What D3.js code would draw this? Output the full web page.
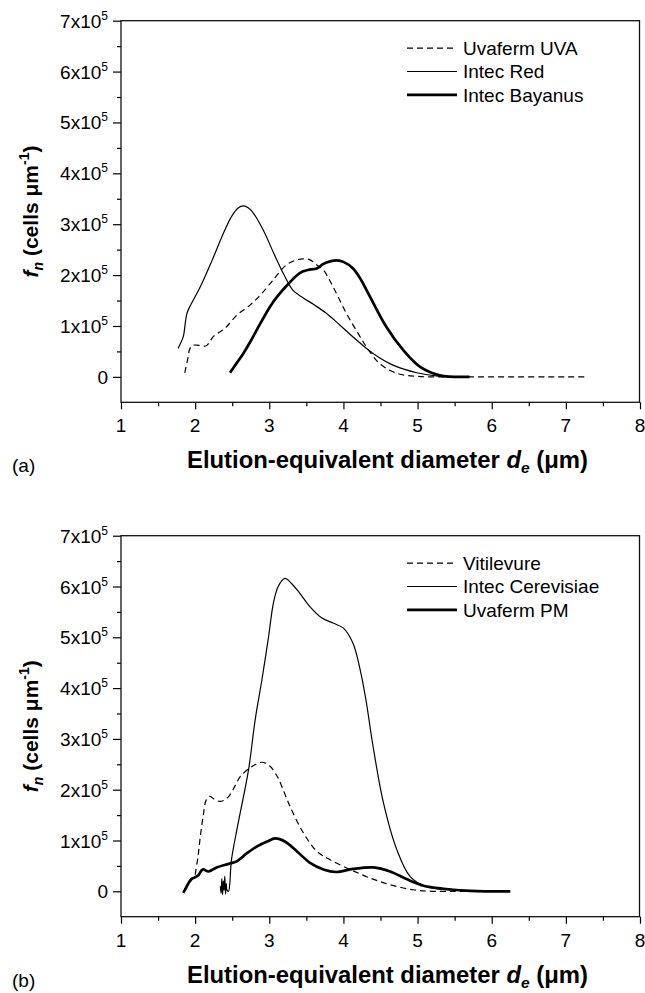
<!DOCTYPE html>
<html>
<head>
<meta charset="utf-8">
<script src="https://cdn.jsdelivr.net/npm/d3@7"></script>
<style>
  body { margin: 0; background: #fff; }
  svg { display: block; font-family: "Liberation Sans", Arial, sans-serif; }
</style>
</head>
<body>
<svg id="chart" width="645" height="993"></svg>
<script>
// fn values in units of 10^5 cells per um

// panel (a)
var uvaX = [1.86, 1.90, 1.93, 1.97, 2.05, 2.15, 2.20, 2.25, 2.33, 2.42, 2.56, 2.74, 2.88, 3.05, 3.23, 3.35, 3.45, 3.55, 3.64, 3.73, 3.86, 4.04, 4.20, 4.31, 4.49, 4.72, 4.99, 5.30, 6.00, 7.00, 7.28];
var uvaY = [0.08, 0.35, 0.56, 0.62, 0.62, 0.61, 0.70, 0.80, 0.88, 0.98, 1.21, 1.41, 1.61, 1.90, 2.20, 2.29, 2.32, 2.30, 2.20, 2.10, 1.77, 1.25, 0.85, 0.59, 0.26, 0.07, 0.01, 0, 0, 0, 0];
var redX = [1.77, 1.80, 1.84, 1.89, 1.95, 2.07, 2.22, 2.36, 2.49, 2.58, 2.65, 2.72, 2.79, 2.92, 3.06, 3.19, 3.32, 3.45, 3.60, 3.77, 3.95, 4.18, 4.40, 4.67, 4.99, 5.30, 5.70];
var redY = [0.56, 0.65, 0.79, 1.25, 1.44, 1.77, 2.26, 2.75, 3.15, 3.32, 3.36, 3.32, 3.21, 2.88, 2.43, 2.03, 1.70, 1.56, 1.42, 1.25, 1.02, 0.72, 0.46, 0.23, 0.08, 0.01, 0];
var bayX = [2.47, 2.56, 2.65, 2.74, 2.83, 3.01, 3.12, 3.24, 3.41, 3.52, 3.64, 3.73, 3.82, 3.91, 4.00, 4.13, 4.24, 4.36, 4.58, 4.81, 5.03, 5.30, 5.70];
var bayY = [0.08, 0.27, 0.46, 0.68, 0.92, 1.38, 1.60, 1.80, 2.04, 2.10, 2.13, 2.22, 2.27, 2.29, 2.26, 2.13, 1.90, 1.57, 0.98, 0.52, 0.20, 0.03, 0];

// panel (b)
var vitX = [2.00, 2.04, 2.07, 2.11, 2.15, 2.20, 2.25, 2.33, 2.40, 2.47, 2.54, 2.61, 2.74, 2.90, 3.01, 3.10, 3.15, 3.28, 3.46, 3.64, 3.82, 4.09, 4.36, 4.63, 4.94, 5.21, 5.60, 6.20];
var vitY = [0.33, 0.70, 1.08, 1.50, 1.80, 1.87, 1.82, 1.77, 1.80, 1.90, 2.08, 2.26, 2.43, 2.54, 2.46, 2.28, 2.13, 1.67, 1.15, 0.79, 0.62, 0.43, 0.26, 0.13, 0.03, 0, 0, 0];
var cerX = [2.34, 2.35, 2.36, 2.37, 2.38, 2.39, 2.40, 2.41, 2.42, 2.43, 2.45, 2.49, 2.58, 2.72, 2.81, 2.90, 2.99, 3.055, 3.12, 3.21, 3.30, 3.41, 3.55, 3.71, 3.86, 4.00, 4.13, 4.22, 4.30, 4.40, 4.54, 4.72, 4.90, 5.12, 5.39, 5.84, 6.25];
var cerY = [0.10, -0.04, 0.25, -0.06, 0.20, 0.02, 0.30, -0.05, 0.15, 0.02, 0.0, 0.62, 1.34, 2.39, 3.38, 4.16, 5.01, 5.67, 6.00, 6.16, 6.06, 5.87, 5.60, 5.38, 5.28, 5.18, 4.88, 4.40, 3.80, 2.85, 1.74, 0.82, 0.29, 0.09, 0.03, 0.01, 0];
var pmX = [1.84, 1.87, 1.91, 1.95, 1.99, 2.04, 2.08, 2.11, 2.18, 2.29, 2.45, 2.56, 2.70, 2.83, 2.97, 3.08, 3.21, 3.37, 3.55, 3.73, 3.90, 4.13, 4.40, 4.63, 4.85, 5.08, 5.35, 5.71, 6.25];
var pmY = [-0.03, 0.05, 0.16, 0.24, 0.27, 0.31, 0.40, 0.43, 0.39, 0.47, 0.54, 0.59, 0.75, 0.88, 0.98, 1.04, 0.98, 0.79, 0.56, 0.43, 0.38, 0.44, 0.47, 0.39, 0.24, 0.11, 0.05, 0.01, 0];

var xTicks = [1, 2, 3, 4, 5, 6, 7, 8];
var yTicks = [0, 1, 2, 3, 4, 5, 6, 7];

var svg = d3.select("#chart");

function zip(xs, ys) {
    return xs.map(function(v, i) { return { x: v, y: ys[i] }; });
}

function drawPanel(top, bottom, tag, series) {
    var x = d3.scaleLinear().domain([1, 8]).range([121, 640]);
    var y = d3.scaleLinear().domain([-0.5, 7]).range([bottom, top]);
    var g = svg.append("g");

    // y ticks (outward), major + minor
    g.append("g")
        .attr("transform", "translate(121,0)")
        .call(d3.axisLeft(y).tickValues(yTicks).tickSize(8).tickSizeOuter(0).tickFormat(""))
        .call(function(a) { a.select(".domain").remove(); });
    g.append("g")
        .attr("transform", "translate(121,0)")
        .call(d3.axisLeft(y).tickValues(d3.range(0.5, 7, 1)).tickSize(4).tickSizeOuter(0).tickFormat(""))
        .call(function(a) { a.select(".domain").remove(); });

    // x ticks
    g.append("g")
        .attr("transform", "translate(0," + bottom + ")")
        .call(d3.axisBottom(x).tickValues(xTicks).tickSize(7).tickSizeOuter(0).tickFormat(""))
        .call(function(a) { a.select(".domain").remove(); });
    g.append("g")
        .attr("transform", "translate(0," + bottom + ")")
        .call(d3.axisBottom(x).tickValues(d3.range(1.5, 8, 1)).tickSize(4).tickSizeOuter(0).tickFormat(""))
        .call(function(a) { a.select(".domain").remove(); });

    g.selectAll(".tick line").attr("stroke", "#000").attr("stroke-width", 1.2);

    // frame
    g.append("rect")
        .attr("x", 121).attr("y", top)
        .attr("width", 518.5).attr("height", bottom - top)
        .attr("fill", "none").attr("stroke", "#111").attr("stroke-width", 1.3);

    // x tick labels
    g.selectAll("text.xt").data(xTicks).enter().append("text")
        .attr("class", "xt")
        .attr("x", function(d) { return x(d); })
        .attr("y", bottom + 30)
        .attr("text-anchor", "middle")
        .attr("font-size", 19)
        .text(function(d) { return d; });

    // y tick labels
    var yl = g.selectAll("text.yt").data(yTicks).enter().append("text")
        .attr("class", "yt")
        .attr("x", 108)
        .attr("y", function(d) { return y(d) + 7; })
        .attr("text-anchor", "end")
        .attr("font-size", 19);
    yl.each(function(d) {
        var t = d3.select(this);
        if (d === 0) { t.text("0"); return; }
        t.append("tspan").text(d + "x10");
        t.append("tspan").attr("dy", -8).attr("font-size", 12).text("5");
    });

    // axis titles
    var yt = g.append("text")
        .attr("transform", "translate(38," + ((top + bottom) / 2) + ") rotate(-90)")
        .attr("text-anchor", "middle")
        .attr("font-size", 21)
        .attr("font-weight", "bold");
    yt.append("tspan").attr("font-style", "italic").text("f");
    yt.append("tspan").attr("font-style", "italic").attr("font-size", 14).attr("dy", 5).text("n");
    yt.append("tspan").attr("dy", -5).text(" (cells \u03bcm");
    yt.append("tspan").attr("font-size", 14).attr("dy", -9).text("-1");
    yt.append("tspan").attr("dy", 9).text(")");

    var xt = g.append("text")
        .attr("x", 187)
        .attr("y", bottom + 66)
        .attr("font-size", 23)
        .attr("font-weight", "bold")
        .attr("textLength", 401)
        .attr("lengthAdjust", "spacingAndGlyphs");
    xt.append("tspan").text("Elution-equivalent diameter ");
    xt.append("tspan").attr("font-style", "italic").text("d");
    xt.append("tspan").attr("font-style", "italic").attr("font-size", 15).attr("dy", 5).text("e");
    xt.append("tspan").attr("dy", -5).text(" (\u03bcm)");

    g.append("text")
        .attr("x", 12)
        .attr("y", bottom + 70)
        .attr("font-size", 19)
        .text(tag);

    // curves
    var line = d3.line()
        .x(function(d) { return x(d.x); })
        .y(function(d) { return y(d.y); })
        .curve(d3.curveCatmullRom.alpha(0.5));

    series.forEach(function(s, i) {
        g.append("path")
            .datum(zip(s.xs, s.ys))
            .attr("d", line)
            .attr("fill", "none")
            .attr("stroke", "#000")
            .attr("stroke-width", s.w)
            .attr("stroke-dasharray", s.dash || null)
            .attr("stroke-linejoin", "round");

        var ly = top + 27.5 + i * 23.3;
        g.append("line")
            .attr("x1", 407).attr("x2", 457)
            .attr("y1", ly).attr("y2", ly)
            .attr("stroke", "#000")
            .attr("stroke-width", s.w)
            .attr("stroke-dasharray", s.dash || null);
        g.append("text")
            .attr("x", 463)
            .attr("y", ly + 6.8)
            .attr("font-size", 19)
            .text(s.name);
    });
}

drawPanel(20.7, 402.3, "(a)", [
    { name: "Uvaferm UVA", xs: uvaX, ys: uvaY, w: 1.2, dash: "6,4" },
    { name: "Intec Red", xs: redX, ys: redY, w: 1.2 },
    { name: "Intec Bayanus", xs: bayX, ys: bayY, w: 2.7 }
]);

drawPanel(535.7, 916.7, "(b)", [
    { name: "Vitilevure", xs: vitX, ys: vitY, w: 1.2, dash: "6,4" },
    { name: "Intec Cerevisiae", xs: cerX, ys: cerY, w: 1.2 },
    { name: "Uvaferm PM", xs: pmX, ys: pmY, w: 2.7 }
]);
</script>
</body>
</html>
